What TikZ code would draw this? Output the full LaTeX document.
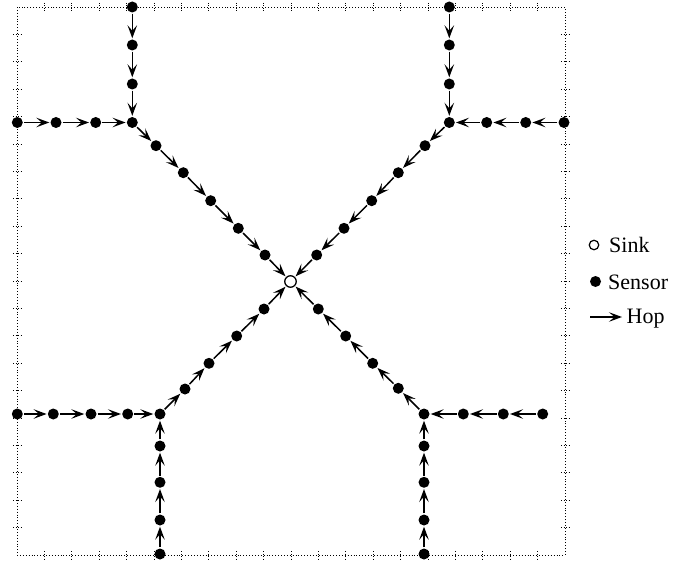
\documentclass[tikz,border=0pt]{standalone}
\usepackage{fontspec}
\setmainfont{Liberation Serif}
\usetikzlibrary{arrows.meta}
\begin{document}
\begin{tikzpicture}[x=1pt,y=-1pt,
  sensor/.style={circle,fill=black,inner sep=0pt,minimum size=11pt,outer sep=1.2pt},
  sinknode/.style={circle,draw=black,fill=white,line width=1.3pt,inner sep=0pt,minimum size=11.5pt,outer sep=1.5pt},
  hop/.style={-{Stealth[length=13pt,width=9.5pt,inset=5.5pt]},line width=1.5pt},
  framebox/.style={line width=0.9pt,dash pattern=on 0.9pt off 2pt},
  tickmark/.style={line width=0.9pt,dash pattern=on 0.9pt off 1.6pt},
  legtext/.style={anchor=base west,inner sep=0pt,font=\fontsize{22}{26}\selectfont}]
\useasboundingbox (0,0) rectangle (674,564);
% frame and ticks
\draw[framebox] (17,7) rectangle (565,555);
\foreach \k in {1,...,19}{
  \draw[tickmark] ({17+27.4*\k},3) -- ({17+27.4*\k},11);
  \draw[tickmark] ({17+27.4*\k},551) -- ({17+27.4*\k},559);
  \draw[tickmark] (13,{7+27.4*\k}) -- (21,{7+27.4*\k});
  \draw[tickmark] (561,{7+27.4*\k}) -- (569,{7+27.4*\k});
}
% sink
\node[sinknode] (S) at (290.5,281.5) {};
% top-left branch
\node[sensor] (a1) at (17.3,122.5) {};
\node[sensor] (a2) at (56,122.5) {};
\node[sensor] (a3) at (95.7,122.5) {};
\node[sensor] (C1) at (132.3,122.5) {};
\node[sensor] (b1) at (132.3,7) {};
\node[sensor] (b2) at (132.3,45) {};
\node[sensor] (b3) at (132.3,84) {};
\node[sensor] (c1) at (156,145.7) {};
\node[sensor] (c2) at (183.3,172.7) {};
\node[sensor] (c3) at (210.7,200.7) {};
\node[sensor] (c4) at (238.3,228.3) {};
\node[sensor] (c5) at (265,255) {};
% top-right branch
\node[sensor] (d1) at (564,122.5) {};
\node[sensor] (d2) at (525.7,122.5) {};
\node[sensor] (d3) at (486.7,122.5) {};
\node[sensor] (C2) at (449.3,122.5) {};
\node[sensor] (e1) at (449.3,7) {};
\node[sensor] (e2) at (449.3,45) {};
\node[sensor] (e3) at (449.3,84) {};
\node[sensor] (f1) at (425,145.7) {};
\node[sensor] (f2) at (398.3,172.7) {};
\node[sensor] (f3) at (371.7,200.7) {};
\node[sensor] (f4) at (344,228.3) {};
\node[sensor] (f5) at (316.7,255) {};
% bottom-left branch
\node[sensor] (g1) at (17.3,414) {};
\node[sensor] (g2) at (53.3,414) {};
\node[sensor] (g3) at (91,414) {};
\node[sensor] (g4) at (127.7,414) {};
\node[sensor] (C3) at (160,414) {};
\node[sensor] (h1) at (160,554) {};
\node[sensor] (h2) at (160,520) {};
\node[sensor] (h3) at (160,482.3) {};
\node[sensor] (h4) at (160,446) {};
\node[sensor] (i1) at (185,389) {};
\node[sensor] (i2) at (209,363.3) {};
\node[sensor] (i3) at (236.7,336) {};
\node[sensor] (i4) at (264,309) {};
% bottom-right branch
\node[sensor] (j1) at (542.7,414) {};
\node[sensor] (j2) at (503.3,414) {};
\node[sensor] (j3) at (463.3,414) {};
\node[sensor] (C4) at (424,414) {};
\node[sensor] (k1) at (424,554) {};
\node[sensor] (k2) at (424,520) {};
\node[sensor] (k3) at (424,482.3) {};
\node[sensor] (k4) at (424,446) {};
\node[sensor] (l1) at (398.3,388.3) {};
\node[sensor] (l2) at (372.7,363.3) {};
\node[sensor] (l3) at (345.7,336) {};
\node[sensor] (l4) at (318.3,309) {};
% hops
\foreach \u/\v in {a1/a2,a2/a3,a3/C1,b1/b2,b2/b3,b3/C1,C1/c1,c1/c2,c2/c3,c3/c4,c4/c5,c5/S,
  d1/d2,d2/d3,d3/C2,e1/e2,e2/e3,e3/C2,C2/f1,f1/f2,f2/f3,f3/f4,f4/f5,f5/S,
  g1/g2,g2/g3,g3/g4,g4/C3,h1/h2,h2/h3,h3/h4,h4/C3,C3/i1,i1/i2,i2/i3,i3/i4,i4/S,
  j1/j2,j2/j3,j3/C4,k1/k2,k2/k3,k3/k4,k4/C4,C4/l1,l1/l2,l2/l3,l3/l4,l4/S}
  \draw[hop] (\u) -- (\v);
% legend
\node[circle,draw=black,fill=white,line width=1.2pt,inner sep=0pt,minimum size=9.5pt] (lsink) at (594,245) {};
\node[sensor] (lsensor) at (595.5,281.5) {};
\coordinate (ha) at (590,317);
\coordinate (hb) at (622,317);
\draw[hop] (ha) -- (hb);
\node[legtext] (tsink) at (609,252.5) {Sink};
\node[legtext] (tsensor) at (608,289) {Sensor};
\node[legtext] (thop) at (626.5,323.5) {Hop};
\end{tikzpicture}
\end{document}
